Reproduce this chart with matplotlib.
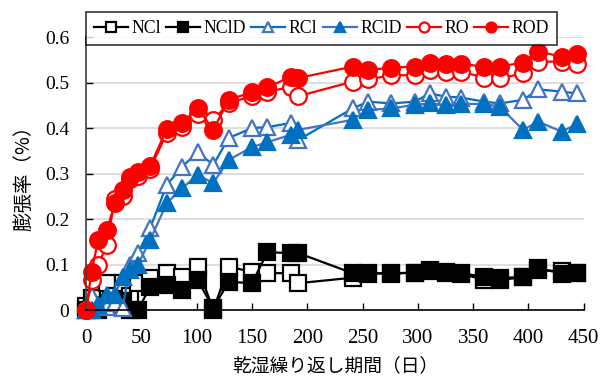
import numpy as np
import matplotlib.pyplot as plt

plt.rcParams['font.family'] = ['Liberation Serif', 'Noto Sans CJK JP']

days = [0, 5, 11, 19, 26, 33, 40, 47, 58, 73, 87, 101, 115, 129, 150, 164, 185, 192,
        241, 255, 276, 297, 311, 325, 339, 360, 374, 395, 409, 430, 444]

ncl = [0.008, 0.026, 0.01, 0.059, 0.03, 0.06, 0.03, 0.06, 0.07, 0.081, 0.073, 0.095, 0.0, 0.095,
       0.084, 0.081, 0.081, 0.059,
       0.071, 0.08, 0.08, 0.082, 0.085, 0.082, 0.08, 0.066, 0.066, 0.072, 0.088, 0.085, 0.082]
ncld = [0.0, 0.005, 0.0, 0.01, 0.02, 0.02, 0.0, 0.0, 0.051, 0.055, 0.044, 0.066, 0.004, 0.062,
        0.059, 0.127, 0.125, 0.125,
        0.081, 0.081, 0.081, 0.082, 0.089, 0.084, 0.081, 0.073, 0.070, 0.073, 0.092, 0.080, 0.081]
rcl = [0.0, 0.03, 0.01, 0.006, 0.015, 0.004, 0.1, 0.125, 0.18, 0.275, 0.315, 0.347, 0.319, 0.378,
       0.40, 0.402, 0.411, 0.374,
       0.443, 0.458, 0.454, 0.458, 0.476, 0.469, 0.467, 0.458, 0.454, 0.462, 0.485, 0.480, 0.476]
rcld = [0.0, 0.0, 0.01, 0.033, 0.033, 0.072, 0.088, 0.10, 0.154, 0.235, 0.268, 0.297, 0.279, 0.33,
        0.358, 0.369, 0.385, 0.396,
        0.418, 0.440, 0.443, 0.451, 0.454, 0.451, 0.453, 0.453, 0.447, 0.396, 0.414, 0.392, 0.409]
ro = [0.0, 0.066, 0.10, 0.143, 0.245, 0.25, 0.288, 0.295, 0.31, 0.389, 0.402, 0.43, 0.417, 0.455,
      0.47, 0.48, 0.49, 0.47,
      0.502, 0.507, 0.516, 0.516, 0.527, 0.524, 0.524, 0.511, 0.509, 0.520, 0.546, 0.546, 0.541]
rod = [0.0, 0.084, 0.154, 0.176, 0.235, 0.264, 0.292, 0.303, 0.316, 0.398, 0.411, 0.444, 0.396, 0.462,
       0.479, 0.490, 0.512, 0.510,
       0.535, 0.527, 0.533, 0.535, 0.542, 0.541, 0.541, 0.535, 0.535, 0.544, 0.568, 0.557, 0.563]

fig = plt.figure(figsize=(6.1, 3.76), dpi=100)
ax = fig.add_axes([0.141, 0.1755, 0.816, 0.726])

ms = 12
lw = 1.6
blue = '#0070C0'
blue2 = '#4472C4'
series = [
    ('NCl', ncl, dict(color='black', marker='s', mfc='white', mec='black')),
    ('NClD', ncld, dict(color='black', marker='s', mfc='black', mec='black')),
    ('RCl', rcl, dict(color=blue, marker='^', mfc='white', mec=blue2)),
    ('RClD', rcld, dict(color=blue2, marker='^', mfc=blue, mec=blue)),
    ('RO', ro, dict(color='#FF0000', marker='o', mfc='white', mec='#FF0000')),
    ('ROD', rod, dict(color='#FF0000', marker='o', mfc='#FF0000', mec='#FF0000')),
]
for name, vals, st in series:
    ax.plot(days, vals, label=name, lw=lw, ms=ms, mew=1.6, clip_on=False, **st)

ax.set_xlim(0, 450)
ax.set_ylim(0, 0.6)
ax.set_xticks(np.arange(0, 451, 50))
ax.set_yticks(np.arange(0, 0.61, 0.1))
ax.set_yticklabels(['0', '0.1', '0.2', '0.3', '0.4', '0.5', '0.6'])
ax.yaxis.grid(True, color='#D9D9D9', lw=1.2)
ax.set_axisbelow(True)
for s in ['top', 'right']:
    ax.spines[s].set_visible(False)
ax.spines['left'].set_color('#404040')
ax.spines['left'].set_linewidth(1.2)
ax.spines['bottom'].set_linewidth(1.2)
ax.tick_params(axis='both', direction='in', length=5, width=1)
ax.tick_params(axis='x', labelsize=15, pad=14)
ax.tick_params(axis='y', labelsize=14, pad=12)

ax.set_xlabel('乾湿繰り返し期間（日）', fontsize=13.5, family=['Noto Sans CJK JP'], labelpad=5)
ax.set_ylabel('膨張率（%）', fontsize=14, family=['Noto Sans CJK JP'], labelpad=8)

leg = ax.legend(loc='upper left', bbox_to_anchor=(0.0, 1.092), ncol=6, frameon=True,
                fancybox=False, edgecolor='black', fontsize=12.8, borderaxespad=0,
                handlelength=1.9, handletextpad=0.2, columnspacing=0.3, markerscale=0.6,
                borderpad=0.45)
leg.get_frame().set_linewidth(1.2)

fig.savefig('out.png', dpi=100)
